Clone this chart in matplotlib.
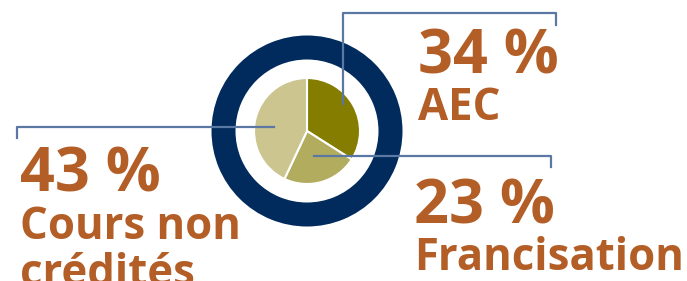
import matplotlib.pyplot as plt

# parts du total (%), dans le sens horaire depuis midi
categories = ['AEC', 'Francisation', 'Cours non\ncrédités']
parts = [34, 23, 43]
pct_labels = ['34 %', '23 %', '43 %']
couleurs = ['#847D00', '#B2AC5E', '#CCC590']

navy = '#002B5C'
orange = '#B35E27'
trait = '#5B77A3'

W, H = 687, 281
fig = plt.figure(figsize=(W / 100, H / 100), dpi=100)
ax = fig.add_axes([0, 0, 1, 1])

cx, cy = 307, 131
# anneau bleu
ax.pie([1], colors=[navy], radius=95.5, center=(cx, cy),
       wedgeprops=dict(width=24, linewidth=0))
# tarte (axe y inversé : -90 = midi, sens trigo = horaire à l'écran)
ax.pie(parts, colors=couleurs, radius=53, center=(cx, cy), startangle=-90,
       counterclock=True, wedgeprops=dict(edgecolor='white', linewidth=1.5))

ax.set_xlim(0, W)
ax.set_ylim(H, 0)
ax.set_aspect('auto')
ax.axis('off')

# traits de rappel
lw = 1.6
ax.plot([343, 343, 556, 556], [104, 13, 13, 25], color=trait, lw=lw)
ax.plot([314, 551, 551], [156, 156, 167], color=trait, lw=lw)
ax.plot([274, 17, 17], [127, 127, 138], color=trait, lw=lw)

font = 'Open Sans'
txt = dict(color=orange, fontfamily=font, fontweight='bold', va='baseline', ha='left')
# positions des étiquettes (x, ligne de base du %)
pos = [(418, 73), (414, 223), (20, 192)]
for (x, y), p, c in zip(pos, pct_labels, categories):
    ax.text(x, y, p, fontsize=44, **txt)
    for i, ligne in enumerate(c.split('\n')):
        ax.text(x, y + 47 + 47 * i, ligne, fontsize=31.5, **txt)

fig.savefig('out.png', dpi=100)
